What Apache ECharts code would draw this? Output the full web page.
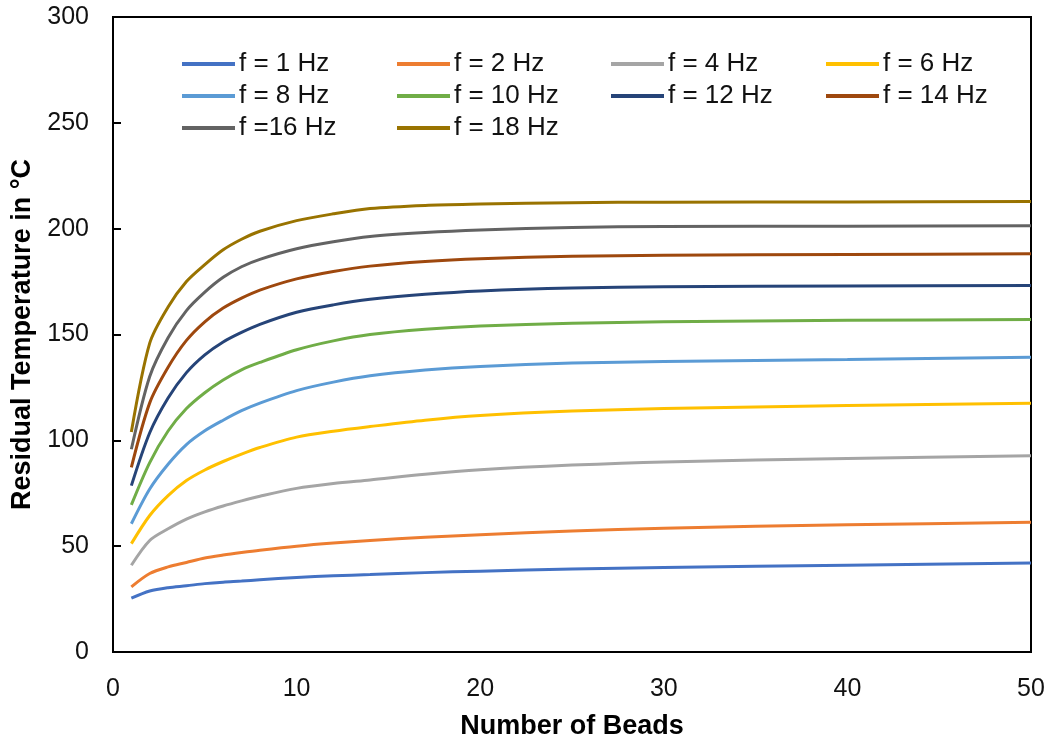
<!DOCTYPE html>
<html>
<head>
<meta charset="utf-8">
<script src="https://cdn.jsdelivr.net/npm/echarts@6/dist/echarts.min.js"></script>
<style>
  html, body { margin: 0; padding: 0; background: #fff; }
  #chart { width: 1052px; height: 738px; }
</style>
</head>
<body>
<div id="chart"></div>
<script>
// bead positions where the curves were read
const beads = [1, 2, 3, 4, 5, 6, 7, 8, 10, 12, 14, 17, 20, 25, 30, 40, 50];

// residual temperature (°C) per frequency
const f1  = [25.4, 28.8, 30.4, 31.3, 32.3, 33.0, 33.5, 34.1, 35.2, 36.0, 36.6, 37.5, 38.2, 39.2, 39.9, 41.0, 42.1];
const f2  = [30.8, 37.1, 40.2, 42.3, 44.4, 45.8, 47.0, 48.1, 50.0, 51.5, 52.7, 54.2, 55.4, 57.2, 58.5, 60.1, 61.3];
const f4  = [41.0, 52.7, 58.2, 62.8, 66.2, 69.0, 71.4, 73.6, 77.3, 79.6, 81.3, 84.0, 86.1, 88.3, 89.8, 91.4, 92.7];
const f6  = [51.2, 64.5, 73.9, 81.0, 86.0, 90.0, 93.5, 96.6, 101.5, 104.3, 106.5, 109.5, 111.7, 113.8, 115.0, 116.4, 117.5];
const f8  = [60.6, 77.0, 88.7, 98.0, 104.5, 109.5, 114.0, 117.6, 123.5, 127.5, 130.5, 133.2, 134.9, 136.5, 137.2, 138.2, 139.2];
const f10 = [69.5, 89.5, 104.4, 115.0, 122.5, 128.5, 133.3, 136.8, 142.8, 147.0, 150.0, 152.5, 154.0, 155.3, 156.0, 156.7, 157.1];
const f12 = [78.6, 103.6, 120.0, 132.0, 140.4, 146.5, 151.0, 154.8, 160.5, 164.0, 166.6, 169.0, 170.6, 172.0, 172.6, 172.9, 173.2];
const f14 = [87.2, 117.7, 134.5, 147.2, 156.0, 162.5, 167.2, 171.0, 176.3, 179.8, 182.3, 184.5, 185.8, 187.0, 187.4, 187.8, 188.1];
const f16 = [95.8, 130.2, 148.5, 161.3, 170.0, 177.0, 182.0, 185.5, 190.5, 193.8, 196.3, 198.2, 199.4, 200.6, 201.0, 201.2, 201.4];
const f18 = [103.9, 145.9, 163.0, 175.0, 183.0, 190.0, 195.0, 198.8, 203.8, 207.0, 209.5, 211.0, 211.6, 212.3, 212.5, 212.6, 212.8];

const seriesNames = ['f = 1 Hz', 'f = 2 Hz', 'f = 4 Hz', 'f = 6 Hz', 'f = 8 Hz',
                     'f = 10 Hz', 'f = 12 Hz', 'f = 14 Hz', 'f =16 Hz', 'f = 18 Hz'];
const seriesValues = [f1, f2, f4, f6, f8, f10, f12, f14, f16, f18];
const colors = ['#4472C4', '#ED7D31', '#A5A5A5', '#FFC000', '#5B9BD5',
                '#70AD47', '#264478', '#9E480E', '#636363', '#997300'];

const xTicks = [0, 10, 20, 30, 40, 50];
const yTicks = [0, 50, 100, 150, 200, 250, 300];

const font = '"Liberation Sans", Arial, sans-serif';

// legend laid out as 4 columns, like the original
const legendCols = [
  [seriesNames[0], seriesNames[4], seriesNames[8]],
  [seriesNames[1], seriesNames[5], seriesNames[9]],
  [seriesNames[2], seriesNames[6]],
  [seriesNames[3], seriesNames[7]]
];
const legendLeft = [182, 397, 611, 826];

const chart = echarts.init(document.getElementById('chart'));

chart.setOption({
  animation: false,
  color: colors,
  textStyle: { fontFamily: font },
  grid: {
    left: 113, right: 21, top: 17, bottom: 86,
    outerBoundsMode: 'none',
    containLabel: false,
    show: true, borderColor: '#000', borderWidth: 2
  },
  legend: legendCols.map((names, i) => ({
    data: names,
    orient: 'vertical',
    left: legendLeft[i],
    top: 51,
    itemGap: 6,
    itemWidth: 53,
    itemHeight: 4,
    icon: 'rect',
    padding: 0,
    textStyle: { fontSize: 26, color: '#111', fontFamily: font, padding: [0, 0, 0, -1] }
  })),
  xAxis: {
    type: 'value',
    min: xTicks[0],
    max: xTicks[xTicks.length - 1],
    interval: 10,
    name: 'Number of Beads',
    nameLocation: 'middle',
    nameGap: 61,
    nameTextStyle: { fontSize: 27, fontWeight: 'bold', color: '#000', fontFamily: font },
    axisLine: { lineStyle: { color: '#000', width: 2 } },
    axisTick: { show: false },
    axisLabel: { fontSize: 25, color: '#111', margin: 25, fontFamily: font },
    splitLine: { show: false }
  },
  yAxis: {
    type: 'value',
    min: yTicks[0],
    max: yTicks[yTicks.length - 1],
    interval: 50,
    name: 'Residual Temperature in °C',
    nameLocation: 'middle',
    nameGap: 74,
    nameTextStyle: { fontSize: 27, fontWeight: 'bold', color: '#000', fontFamily: font },
    axisLine: { show: true, lineStyle: { color: '#000', width: 2 } },
    axisTick: { show: true, inside: true, length: 8, lineStyle: { color: '#000', width: 2 } },
    axisLabel: { fontSize: 25, color: '#111', margin: 24, fontFamily: font },
    splitLine: { show: false }
  },
  series: seriesNames.map((name, i) => ({
    name: name,
    type: 'line',
    smooth: 0.3,
    showSymbol: false,
    symbol: 'none',
    lineStyle: { width: 3, color: colors[i] },
    itemStyle: { color: colors[i] },
    data: beads.map((b, j) => [b, seriesValues[i][j]])
  }))
});
</script>
</body>
</html>
